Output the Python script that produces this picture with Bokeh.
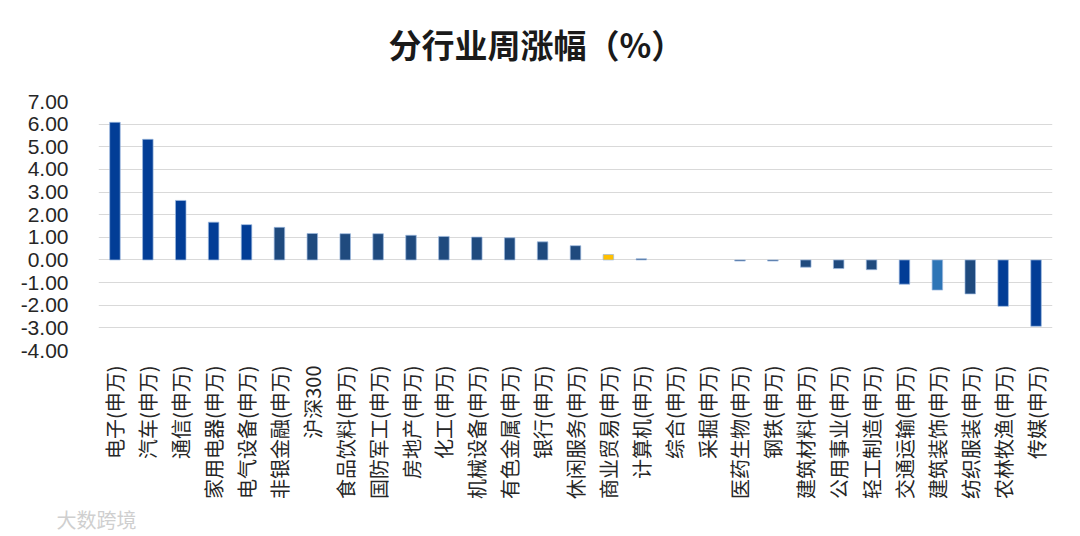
import math
from bokeh.plotting import figure
from bokeh.models import (FixedTicker, NumeralTickFormatter, Range1d, Title,
                          ColumnDataSource, FactorRange)
from bokeh.embed import file_html
from bokeh.resources import INLINE

categories = ["电子(申万)", "汽车(申万)", "通信(申万)", "家用电器(申万)", "电气设备(申万)",
              "非银金融(申万)", "沪深300", "食品饮料(申万)", "国防军工(申万)", "房地产(申万)",
              "化工(申万)", "机械设备(申万)", "有色金属(申万)", "银行(申万)", "休闲服务(申万)",
              "商业贸易(申万)", "计算机(申万)", "综合(申万)", "采掘(申万)", "医药生物(申万)",
              "钢铁(申万)", "建筑材料(申万)", "公用事业(申万)", "轻工制造(申万)", "交通运输(申万)",
              "建筑装饰(申万)", "纺织服装(申万)", "农林牧渔(申万)", "传媒(申万)"]
values = [6.08, 5.33, 2.63, 1.67, 1.56, 1.44, 1.17, 1.16, 1.16, 1.09,
          1.04, 1.01, 0.98, 0.80, 0.63, 0.24, 0.05, 0.0, 0.0, -0.05,
          -0.05, -0.32, -0.38, -0.43, -1.07, -1.33, -1.50, -2.05, -2.93]
y_ticks = [-4, -3, -2, -1, 0, 1, 2, 3, 4, 5, 6, 7]
title_text = "分行业周涨幅（%）"
watermark_text = "大数跨境"

DEEP = "#023D96"
NAVY = "#1F4A7E"
LIGHT = "#2E75B6"
GOLD = "#FFC000"
bar_colors = [DEEP, DEEP, DEEP, DEEP, DEEP,
              NAVY, NAVY, NAVY, NAVY, NAVY,
              NAVY, NAVY, NAVY, NAVY, NAVY,
              GOLD, NAVY, NAVY, NAVY, NAVY,
              NAVY, NAVY, NAVY, NAVY, DEEP,
              LIGHT, NAVY, DEEP, DEEP]
edge_alpha = [0.7 if v != 0 else 0.0 for v in values]

src = ColumnDataSource(dict(cat=categories, val=values, color=bar_colors, ea=edge_alpha))

W, H = 1064, 536
p = figure(x_range=FactorRange(factors=categories, range_padding=0),
           y_range=Range1d(-4, 7),
           width=W, height=H, output_backend="svg", toolbar_location=None,
           min_border_left=98, min_border_right=W - 1052, min_border_top=101,
           min_border_bottom=H - 350)

p.vbar(x="cat", top="val", bottom=0, width=0.32, source=src,
       fill_color="color", line_color="#9DB9DF", line_width=1, line_alpha="ea")

p.outline_line_color = None
p.xgrid.grid_line_color = None
p.ygrid.grid_line_color = "#D9D9D9"
p.ygrid.grid_line_width = 1

ya = p.yaxis[0]
ya.ticker = FixedTicker(ticks=y_ticks)
ya.formatter = NumeralTickFormatter(format="0.00")
ya.axis_line_color = None
ya.major_tick_line_color = None
ya.minor_tick_line_color = None
ya.major_label_text_font = "Liberation Sans"
ya.major_label_text_font_size = "21px"
ya.major_label_text_color = "#262626"
ya.major_label_standoff = 24

xa = p.xaxis[0]
xa.axis_line_color = None
xa.major_tick_line_color = None
xa.minor_tick_line_color = None
xa.major_label_orientation = math.pi / 2
xa.major_label_text_font = "Noto Sans CJK SC"
xa.major_label_text_font_size = "20px"
xa.major_label_text_color = "#262626"
xa.major_label_standoff = 9

spacer = Title(text=" ", standoff=30, text_font_size="2px")
p.add_layout(spacer, "above")

t = Title(text=title_text, align="left", offset=290, standoff=0,
          text_font="Noto Sans CJK SC", text_font_size="33px",
          text_font_style="bold", text_color="#1a1a1a")
p.add_layout(t, "above")

wm = Title(text=watermark_text, align="left", offset=-42, standoff=0,
           text_font="Noto Sans CJK SC", text_font_size="20px",
           text_font_style="normal", text_color="#CFCFCF")
p.add_layout(wm, "below")

open("out.html", "w").write(file_html(p, INLINE))
